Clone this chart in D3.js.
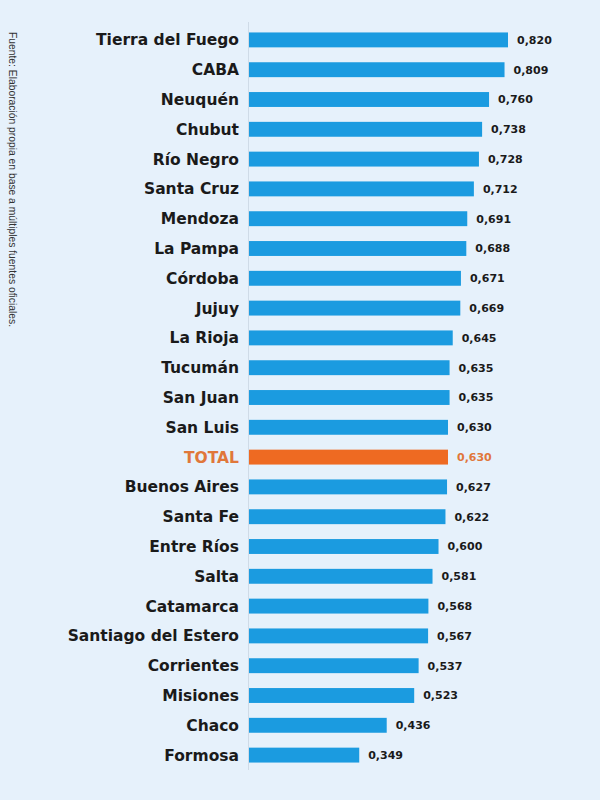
<!DOCTYPE html>
<html>
<head>
<meta charset="utf-8">
<script src="https://cdn.jsdelivr.net/npm/d3@7"></script>
<style>
  html, body { margin: 0; padding: 0; background: #e6f1fb; }
  svg { display: block; }
</style>
</head>
<body>
<div id="chart"></div>
<script>
var provinces = ['Tierra del Fuego', 'CABA', 'Neuquén', 'Chubut', 'Río Negro', 'Santa Cruz',
  'Mendoza', 'La Pampa', 'Córdoba', 'Jujuy', 'La Rioja', 'Tucumán', 'San Juan', 'San Luis',
  'TOTAL', 'Buenos Aires', 'Santa Fe', 'Entre Ríos', 'Salta', 'Catamarca',
  'Santiago del Estero', 'Corrientes', 'Misiones', 'Chaco', 'Formosa'];
var values = [0.820, 0.809, 0.760, 0.738, 0.728, 0.712, 0.691, 0.688, 0.671, 0.669,
  0.645, 0.635, 0.635, 0.630, 0.630, 0.627, 0.622, 0.600, 0.581, 0.568,
  0.567, 0.537, 0.523, 0.436, 0.349];
var highlight = 'TOTAL';
var source = 'Fuente: Elaboración propia en base a múltiples fuentes oficiales.';

var width = 600, height = 800;
var font = '"DejaVu Sans", Verdana, sans-serif';

var data = provinces.map(function(p, i) { return {name: p, value: values[i]}; });

var svg = d3.select('#chart').append('svg')
  .attr('width', width)
  .attr('height', height);

svg.append('rect').attr('width', width).attr('height', height).attr('fill', '#e6f1fb');

//zero sits on the axis line, 0.820 ends near x=508
var x = d3.scaleLinear().domain([0, 0.82]).range([249, 508]);
var y = d3.scaleBand().domain(provinces).range([25, 770]).paddingInner(0.5).paddingOuter(0.25);

svg.append('line')
  .attr('x1', 248.5).attr('x2', 248.5)
  .attr('y1', 22).attr('y2', 770)
  .attr('stroke', '#cfdbe7').attr('stroke-width', 1);

var rows = svg.append('g').selectAll('g')
  .data(data)
  .enter().append('g')
    .attr('transform', function(d) { return 'translate(0,' + y(d.name) + ')'; });

rows.append('rect')
  .attr('x', x(0))
  .attr('width', function(d) { return x(d.value) - x(0); })
  .attr('height', y.bandwidth())
  .attr('fill', function(d) { return d.name === highlight ? '#ee6a22' : '#1b9be0'; });

rows.append('text')
  .attr('x', 239)
  .attr('y', y.bandwidth() / 2)
  .attr('dy', '0.35em')
  .attr('text-anchor', 'end')
  .style('font-family', font)
  .style('font-weight', 700)
  .style('font-size', '15.5px')
  .attr('fill', function(d) { return d.name === highlight ? '#e0773a' : '#1a1a1a'; })
  .text(function(d) { return d.name; });

rows.append('text')
  .attr('x', function(d) { return x(d.value) + 9; })
  .attr('y', y.bandwidth() / 2)
  .attr('dy', '0.35em')
  .style('font-family', font)
  .style('font-weight', 700)
  .style('font-size', '11px')
  .attr('fill', function(d) { return d.name === highlight ? '#e0773a' : '#1a1a1a'; })
  .text(function(d) { return d3.format('.3f')(d.value).replace('.', ','); });

svg.append('text')
  .attr('transform', 'translate(9,32) rotate(90)')
  .attr('textLength', 295)
  .attr('lengthAdjust', 'spacingAndGlyphs')
  .style('font-family', '"Liberation Sans", Arial, sans-serif')
  .style('font-size', '11px')
  .attr('fill', '#333')
  .text(source);
</script>
</body>
</html>
